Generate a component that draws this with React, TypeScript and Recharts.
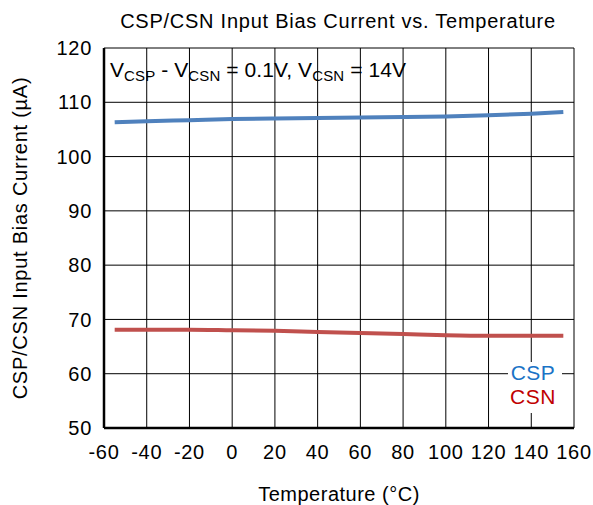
import { LineChart, Line, XAxis, YAxis, CartesianGrid, Customized } from "recharts"

const temps = [-55, -40, -20, 0, 20, 40, 60, 80, 100, 120, 140, 155]
const cspCurrent = [106.3, 106.5, 106.7, 106.9, 107.0, 107.1, 107.2, 107.3, 107.4, 107.6, 107.9, 108.2]
const csnCurrent = [68.1, 68.1, 68.1, 68.0, 67.9, 67.7, 67.5, 67.3, 67.1, 67.0, 67.0, 67.0]
const xTicks = [-60, -40, -20, 0, 20, 40, 60, 80, 100, 120, 140, 160]
const yTicks = [50, 60, 70, 80, 90, 100, 110, 120]

const data = temps.map((t, i) => ({ temp: t, csp: cspCurrent[i], csn: csnCurrent[i] }))

const font = "'Liberation Sans', Arial, sans-serif"
const txt = { fill: "#000", fontSize: 20, fontFamily: font, letterSpacing: 0.7 }

const Overlay = () => (
    <g fontFamily={font}>
        <text x={338} y={28} textAnchor="middle" fontSize={20} letterSpacing={0.75} fill="#000">
            CSP/CSN Input Bias Current vs. Temperature
        </text>
        <text x={110} y={77} fontSize={21} letterSpacing={0.1} fill="#000">
            V<tspan fontSize={15} dy={4}>CSP</tspan>
            <tspan dy={-4}> - V</tspan>
            <tspan fontSize={15} dy={4}>CSN</tspan>
            <tspan dy={-4}> = 0.1V, V</tspan>
            <tspan fontSize={15} dy={4}>CSN</tspan>
            <tspan dy={-4}> = 14V</tspan>
        </text>
        <rect x={508} y={362} width={54} height={51} fill="#fff" />
        <text x={533} y={380} textAnchor="middle" fontSize={21} letterSpacing={0.5} fill="#1a73c6">CSP</text>
        <text x={533} y={404} textAnchor="middle" fontSize={21} letterSpacing={0.5} fill="#c00000">CSN</text>
    </g>
)

export default function App() {
    return (
        <div style={{ position: "absolute", left: 0, top: 0, background: "#fff" }}>
            <LineChart width={593} height={505} data={data} margin={{ top: 48, right: 19, bottom: 0, left: 0 }}>
                <CartesianGrid stroke="#000" strokeWidth={1} />
                <XAxis
                    dataKey="temp"
                    type="number"
                    domain={[-60, 160]}
                    ticks={xTicks}
                    tickLine={false}
                    tickSize={0}
                    tickMargin={17}
                    height={77}
                    axisLine={{ stroke: "#000", strokeWidth: 2.5 }}
                    tick={txt}
                    label={{ value: "Temperature (°C)", position: "insideBottom", offset: 4, ...txt, letterSpacing: 0.5 }}
                />
                <XAxis xAxisId="top" orientation="top" type="number" domain={[-60, 160]} tick={false} tickLine={false} height={0} axisLine={{ stroke: "#000", strokeWidth: 2.5 }} />
                <YAxis
                    type="number"
                    domain={[50, 120]}
                    ticks={yTicks}
                    tickLine={false}
                    tickSize={0}
                    tickMargin={12}
                    width={104}
                    axisLine={{ stroke: "#000", strokeWidth: 2.5 }}
                    tick={txt}
                    label={{ value: "CSP/CSN Input Bias Current (µA)", angle: -90, position: "insideLeft", offset: 20, style: { textAnchor: "middle" }, ...txt, letterSpacing: 0.75 }}
                />
                <YAxis yAxisId="right" orientation="right" type="number" domain={[50, 120]} tick={false} tickLine={false} width={0} axisLine={{ stroke: "#000", strokeWidth: 2.5 }} />
                <Line dataKey="csp" type="monotone" stroke="#4f81bd" strokeWidth={4} dot={false} isAnimationActive={false} />
                <Line dataKey="csn" type="monotone" stroke="#c0504d" strokeWidth={4} dot={false} isAnimationActive={false} />
                <Customized component={Overlay} />
            </LineChart>
        </div>
    )
}
